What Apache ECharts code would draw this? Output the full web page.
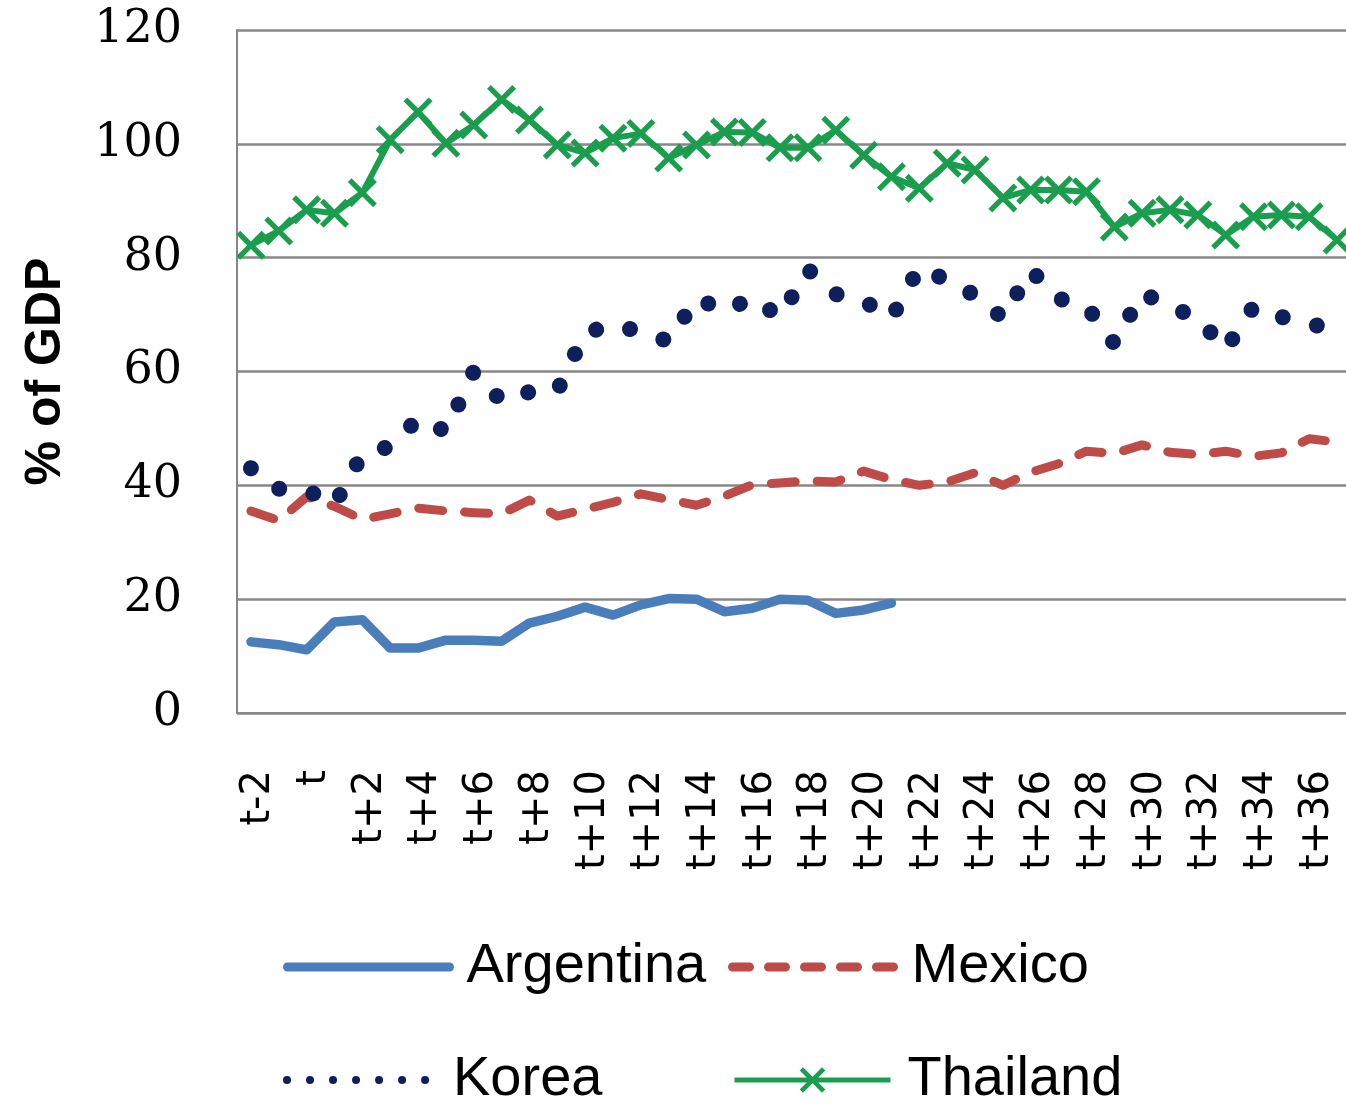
<!DOCTYPE html>
<html>
<head>
<meta charset="utf-8">
<script src="https://cdn.jsdelivr.net/npm/echarts@6/dist/echarts.min.js"></script>
<style>
  html, body { margin: 0; padding: 0; background: #ffffff; }
  #chart { width: 1346px; height: 1103px; }
</style>
</head>
<body>
<div id="chart"></div>
<script>
// Periods around the crisis year t
const categories = [
  't-2', 't-1', 't', 't+1', 't+2', 't+3', 't+4', 't+5', 't+6', 't+7',
  't+8', 't+9', 't+10', 't+11', 't+12', 't+13', 't+14', 't+15', 't+16', 't+17',
  't+18', 't+19', 't+20', 't+21', 't+22', 't+23', 't+24', 't+25', 't+26', 't+27',
  't+28', 't+29', 't+30', 't+31', 't+32', 't+33', 't+34', 't+35', 't+36', 't+37'
];

// Debt, % of GDP
const argentina = [
  12.5, 12.0, 11.1, 16.0, 16.4, 11.4, 11.4, 12.8, 12.8, 12.6,
  15.8, 17.0, 18.6, 17.2, 19.0, 20.1, 20.0, 17.8, 18.4, 20.0,
  19.8, 17.5, 18.1, 19.3
];
const mexico = [
  35.5, 33.8, 38.0, 36.3, 34.0, 35.0, 36.0, 35.5, 35.2, 35.0,
  37.4, 34.6, 35.8, 37.0, 38.5, 37.5, 36.5, 38.1, 40.1, 40.4,
  40.8, 40.6, 42.5, 41.0, 40.0, 40.6, 42.2, 40.0, 42.3, 43.8,
  46.0, 45.6, 47.1, 45.8, 45.4, 46.0, 45.1, 45.7, 48.2, 47.6
];
const korea = [
  43.0, 39.4, 39.2, 36.6, 45.5, 46.8, 51.7, 49.5, 60.0, 54.8,
  56.4, 56.6, 66.8, 68.2, 67.0, 65.3, 72.9, 70.6, 72.9, 69.6,
  77.9, 73.6, 72.4, 69.4, 78.3, 76.0, 73.4, 69.4, 77.8, 72.8,
  71.5, 64.9, 73.8, 71.4, 69.4, 63.9, 71.4, 69.6, 68.3, 67.5
];
const thailand = [
  82.2, 84.7, 88.4, 87.8, 91.4, 100.7, 105.6, 100.1, 103.3, 107.8,
  104.2, 99.8, 98.4, 101.0, 101.8, 97.5, 99.8, 102.1, 102.0, 99.3,
  99.3, 102.4, 98.0, 94.2, 92.2, 96.6, 95.4, 90.5, 91.9, 91.9,
  91.6, 85.4, 87.8, 88.4, 87.5, 84.0, 87.2, 87.5, 87.2, 83.1
];

const yTicks = { min: 0, max: 120, step: 20 };

const COLORS = {
  argentina: '#4a7ebb',
  mexico: '#be4b48',
  korea: '#0d1f5c',
  thailand: '#1a9e4e',
  grid: '#878787'
};

// filled "x" cross used as the Thailand marker
const CROSS = 'path://M0,13 L13,0 L50,37 L87,0 L100,13 L63,50 L100,87 L87,100 L50,63 L13,100 L0,87 L37,50 Z';

const legendText = {
  fontFamily: 'Liberation Sans',
  fontSize: 56,
  color: '#000000',
  padding: [0, 0, 0, 12]
};

function legendFor(name, left, top, width, lineStyle, hideSymbol) {
  return {
    data: [name],
    left: left,
    top: top,
    padding: 0,
    itemWidth: width,
    itemHeight: 32,
    selectedMode: false,
    textStyle: legendText,
    lineStyle: lineStyle,
    itemStyle: hideSymbol ? { opacity: 0 } : {}
  };
}

const chart = echarts.init(document.getElementById('chart'), null, { renderer: 'canvas' });

chart.setOption({
  animation: false,
  backgroundColor: '#ffffff',
  grid: {
    left: 237,
    top: 30,
    width: 1114,
    height: 683,
    containLabel: false,
    outerBoundsMode: 'none'
  },
  legend: [
    legendFor('Argentina', 283, 939, 162, { width: 9, color: COLORS.argentina, type: 'solid', cap: 'round' }, true),
    legendFor('Mexico', 728, 939, 162, { width: 9, color: COLORS.mexico, type: [17, 19], cap: 'round' }, true),
    legendFor('Korea', 283, 1052, 149, { width: 8, color: COLORS.korea, type: [0.01, 23], cap: 'round' }, true),
    legendFor('Thailand', 732, 1052, 156, { width: 5, color: COLORS.thailand, type: 'solid' }, false)
  ],
  xAxis: {
    type: 'category',
    data: categories,
    boundaryGap: true,
    axisLine: { show: true, lineStyle: { color: COLORS.grid, width: 2 } },
    axisTick: { show: false },
    axisLabel: {
      interval: 1,
      rotate: 90,
      margin: 57,
      verticalAlign: 'top',
      lineHeight: 16,
      fontFamily: 'DejaVu Sans',
      fontSize: 40,
      color: '#000000'
    },
    splitLine: { show: false }
  },
  yAxis: {
    type: 'value',
    min: yTicks.min,
    max: yTicks.max,
    interval: yTicks.step,
    name: '% of GDP',
    nameLocation: 'middle',
    nameGap: 166,
    nameRotate: 90,
    nameTextStyle: {
      fontFamily: 'Liberation Sans',
      fontWeight: 'bold',
      fontSize: 50,
      color: '#000000'
    },
    axisLine: { show: true, lineStyle: { color: COLORS.grid, width: 2 } },
    axisTick: { show: false },
    axisLabel: {
      margin: 55,
      fontFamily: 'DejaVu Serif',
      fontSize: 46,
      color: '#000000'
    },
    splitLine: { show: true, lineStyle: { color: COLORS.grid, width: 2.5 } }
  },
  series: [
    {
      name: 'Argentina',
      type: 'line',
      data: argentina,
      symbol: 'none',
      lineStyle: { color: COLORS.argentina, width: 9.5, cap: 'round', join: 'round' },
      itemStyle: { color: COLORS.argentina },
      z: 3
    },
    {
      name: 'Mexico',
      type: 'line',
      data: mexico,
      symbol: 'none',
      lineStyle: { color: COLORS.mexico, width: 9, type: [24, 22], cap: 'round', join: 'round' },
      itemStyle: { color: COLORS.mexico },
      z: 3
    },
    {
      name: 'Korea',
      type: 'line',
      data: korea,
      symbol: 'none',
      lineStyle: { color: COLORS.korea, width: 16, type: [0.01, 35], cap: 'round', join: 'round' },
      itemStyle: { color: COLORS.korea },
      z: 4
    },
    {
      name: 'Thailand',
      type: 'line',
      data: thailand,
      symbol: CROSS,
      symbolSize: 29,
      showSymbol: true,
      showAllSymbol: true,
      lineStyle: { color: COLORS.thailand, width: 6, join: 'round' },
      itemStyle: { color: COLORS.thailand },
      z: 5
    }
  ]
});
</script>
</body>
</html>
